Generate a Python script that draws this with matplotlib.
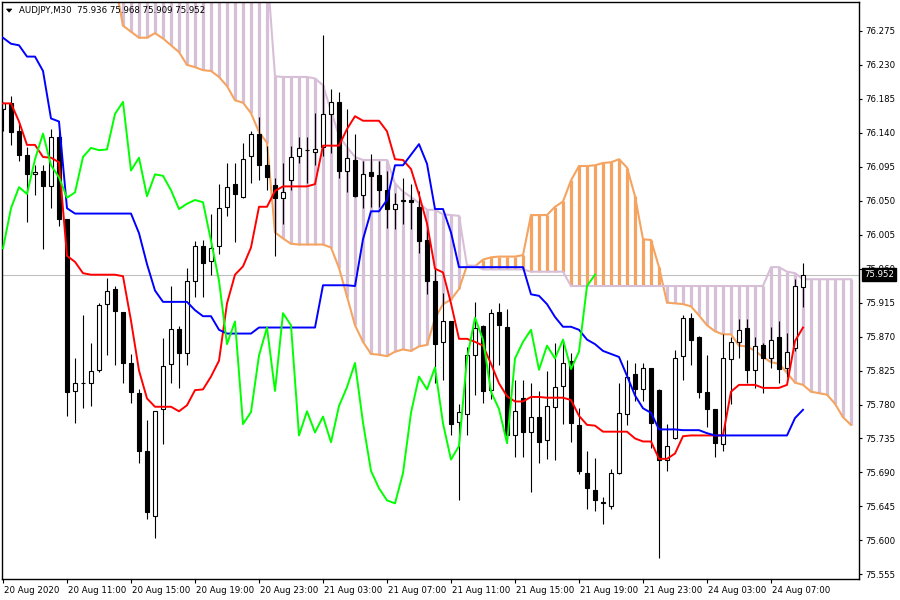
import numpy as np
import matplotlib
matplotlib.use("Agg")
import matplotlib.pyplot as plt
from matplotlib.transforms import ScaledTranslation
from matplotlib.patches import Polygon

# ---------------- data ----------------
symbol_title = "AUDJPY,M30"
last_price = 75.952

opens = [76.172, 76.180, 76.142, 76.111, 76.085, 76.089, 76.069, 76.134, 76.026, 75.798,
         75.808, 75.808, 75.826, 75.913, 75.933, 75.902, 75.835, 75.795, 75.719, 75.632,
         75.774, 75.834, 75.880, 75.848, 75.944, 75.990, 75.970, 75.990, 76.042, 76.072,
         76.055, 76.109, 76.139, 76.097, 76.071, 76.054, 76.078, 76.109, 76.117, 76.115,
         76.121, 76.165, 76.181, 76.090, 76.104, 76.058, 76.088, 76.084, 76.064, 76.039,
         76.050, 76.051, 76.042, 75.998, 75.944, 75.863, 75.890, 75.757, 75.768, 75.846,
         75.884, 75.799, 75.902, 75.883, 75.739, 75.788, 75.743, 75.763, 75.733, 75.777,
         75.805, 75.838, 75.753, 75.689, 75.667, 75.651, 75.645, 75.689, 75.768, 75.820,
         75.800, 75.829, 75.799, 75.707, 75.736, 75.844, 75.894, 75.869, 75.797, 75.774,
         75.727, 75.840, 75.863, 75.882, 75.826, 75.859, 75.841, 75.869, 75.829, 75.855,
         75.936]
highs = [76.181, 76.189, 76.155, 76.121, 76.098, 76.097, 76.145, 76.143, 76.026, 75.842,
         75.898, 75.862, 75.914, 75.947, 75.937, 75.903, 75.847, 75.800, 75.760, 75.771,
         75.868, 75.937, 75.884, 75.961, 75.997, 75.998, 76.033, 76.072, 76.100, 76.100,
         76.126, 76.143, 76.161, 76.123, 76.080, 76.100, 76.122, 76.134, 76.134, 76.166,
         76.270, 76.198, 76.194, 76.171, 76.138, 76.103, 76.112, 76.103, 76.090, 76.060,
         76.080, 76.072, 76.063, 76.013, 75.961, 75.928, 75.890, 75.781, 75.856, 75.916,
         75.886, 75.907, 75.914, 75.907, 75.813, 75.813, 75.809, 75.798, 75.825, 75.862,
         75.865, 75.848, 75.776, 75.718, 75.709, 75.658, 75.694, 75.809, 75.839, 75.835,
         75.835, 75.829, 75.800, 75.754, 75.852, 75.898, 75.901, 75.871, 75.845, 75.774,
         75.873, 75.869, 75.893, 75.893, 75.870, 75.861, 75.883, 75.890, 75.875, 75.946,
         75.968]
lows = [76.143, 76.124, 76.103, 76.022, 76.057, 75.986, 76.040, 76.017, 75.765, 75.756,
        75.775, 75.778, 75.823, 75.846, 75.832, 75.808, 75.782, 75.703, 75.628, 75.603,
        75.728, 75.808, 75.802, 75.832, 75.923, 75.923, 75.951, 75.979, 76.030, 75.995,
        76.053, 76.073, 76.078, 76.064, 75.977, 76.019, 76.064, 76.100, 76.073, 76.098,
        76.109, 76.113, 76.080, 76.061, 76.055, 76.041, 76.042, 76.042, 76.014, 76.013,
        76.019, 76.013, 75.981, 75.927, 75.808, 75.812, 75.739, 75.654, 75.740, 75.792,
        75.782, 75.787, 75.833, 75.729, 75.711, 75.711, 75.664, 75.703, 75.708, 75.706,
        75.754, 75.730, 75.688, 75.641, 75.639, 75.622, 75.641, 75.688, 75.753, 75.784,
        75.784, 75.723, 75.577, 75.692, 75.734, 75.813, 75.833, 75.789, 75.750, 75.711,
        75.718, 75.781, 75.841, 75.809, 75.802, 75.795, 75.828, 75.808, 75.817, 75.851,
        75.909]
closes = [76.179, 76.141, 76.110, 76.085, 76.088, 76.069, 76.135, 76.026, 75.797, 75.808,
          75.808, 75.824, 75.912, 75.931, 75.904, 75.835, 75.797, 75.719, 75.638, 75.771,
          75.831, 75.880, 75.848, 75.943, 75.990, 75.967, 75.987, 76.040, 76.068, 76.059,
          76.105, 76.139, 76.097, 76.081, 76.054, 76.061, 76.108, 76.120, 76.117, 76.118,
          76.165, 76.181, 76.090, 76.107, 76.056, 76.085, 76.083, 76.064, 76.039, 76.046,
          76.051, 76.048, 75.997, 75.944, 75.860, 75.890, 75.754, 75.770, 75.845, 75.882,
          75.798, 75.901, 75.885, 75.739, 75.771, 75.743, 75.764, 75.730, 75.778, 75.803,
          75.835, 75.756, 75.692, 75.669, 75.653, 75.649, 75.689, 75.769, 75.817, 75.800,
          75.829, 75.755, 75.707, 75.725, 75.841, 75.895, 75.866, 75.797, 75.774, 75.729,
          75.841, 75.863, 75.879, 75.826, 75.858, 75.841, 75.866, 75.827, 75.850, 75.937,
          75.952]

# Tenkan-sen (red) and Kijun-sen (blue), one value per bar
tenkan = [76.179, 76.179, 76.155, 76.124, 76.124, 76.108, 76.107, 76.101, 75.977, 75.969,
          75.954, 75.952, 75.952, 75.952, 75.952, 75.950, 75.891, 75.825, 75.788, 75.777,
          75.777, 75.777, 75.771, 75.779, 75.799, 75.800, 75.817, 75.838, 75.914, 75.952,
          75.963, 75.988, 76.042, 76.042, 76.063, 76.069, 76.069, 76.069, 76.069, 76.072,
          76.123, 76.123, 76.123, 76.145, 76.162, 76.156, 76.156, 76.156, 76.142, 76.105,
          76.104, 76.092, 76.058, 76.020, 75.960, 75.955, 75.914, 75.867, 75.867, 75.863,
          75.858, 75.834, 75.808, 75.791, 75.784, 75.784, 75.790, 75.790, 75.789, 75.789,
          75.789, 75.786, 75.765, 75.753, 75.752, 75.744, 75.744, 75.744, 75.744, 75.735,
          75.731, 75.731, 75.708, 75.708, 75.715, 75.738, 75.739, 75.739, 75.739, 75.739,
          75.739, 75.797, 75.806, 75.806, 75.806, 75.802, 75.802, 75.802, 75.806, 75.864,
          75.882]
kijun = [76.266, 76.258, 76.256, 76.241, 76.241, 76.222, 76.159, 76.155, 76.040, 76.033,
         76.033, 76.033, 76.033, 76.033, 76.033, 76.033, 76.033, 76.007, 75.966, 75.931,
         75.916, 75.916, 75.916, 75.916, 75.905, 75.897, 75.897, 75.879, 75.874, 75.874,
         75.874, 75.874, 75.882, 75.882, 75.882, 75.882, 75.882, 75.882, 75.882, 75.882,
         75.938, 75.938, 75.938, 75.938, 75.937, 75.999, 76.036, 76.036, 76.051, 76.097,
         76.097, 76.111, 76.125, 76.099, 76.039, 76.039, 76.008, 75.962, 75.962, 75.962,
         75.962, 75.962, 75.962, 75.962, 75.962, 75.962, 75.926, 75.924, 75.913, 75.896,
         75.883, 75.883, 75.879, 75.866, 75.860, 75.851, 75.847, 75.843, 75.818, 75.792,
         75.775, 75.769, 75.747, 75.747, 75.747, 75.746, 75.746, 75.746, 75.742, 75.739,
         75.739, 75.739, 75.739, 75.739, 75.739, 75.739, 75.739, 75.739, 75.739, 75.762,
         75.773]

# Senkou spans (cloud), bars 14 .. 106 (values above 76.31 lie off the top of the chart)
span_start = 14
span_a = [76.340, 76.282, 76.274, 76.266, 76.266, 76.272, 76.265, 76.256, 76.247, 76.230,
          76.227, 76.223, 76.222, 76.214, 76.202, 76.183, 76.180, 76.166, 76.141, 76.127,
          76.008, 76.000, 75.993, 75.992, 75.992, 75.992, 75.992, 75.988, 75.961, 75.923,
          75.885, 75.863, 75.847, 75.846, 75.844, 75.850, 75.853, 75.851, 75.857, 75.859,
          75.894, 75.913, 75.919, 75.933, 75.964, 75.963, 75.972, 75.975, 75.976, 75.976,
          75.976, 75.978, 76.031, 76.031, 76.031, 76.042, 76.049, 76.077, 76.096, 76.096,
          76.097, 76.100, 76.101, 76.105, 76.094, 76.056, 75.999, 75.998, 75.962, 75.915,
          75.914, 75.913, 75.910, 75.898, 75.885, 75.877, 75.873, 75.873, 75.858, 75.857,
          75.851, 75.843, 75.836, 75.834, 75.822, 75.809, 75.806, 75.797, 75.795, 75.793,
          75.781, 75.763, 75.753]
span_b = [76.360, 76.360, 76.360, 76.360, 76.360, 76.360, 76.360, 76.360, 76.360, 76.360,
          76.360, 76.360, 76.360, 76.360, 76.360, 76.360, 76.360, 76.360, 76.360, 76.360,
          76.215, 76.214, 76.214, 76.214, 76.214, 76.212, 76.203, 76.169, 76.136, 76.121,
          76.108, 76.104, 76.104, 76.104, 76.104, 76.073, 76.062, 76.055, 76.047, 76.038,
          76.038, 76.032, 76.031, 76.030, 75.964, 75.964, 75.959, 75.959, 75.959, 75.959,
          75.959, 75.959, 75.956, 75.956, 75.956, 75.956, 75.956, 75.937, 75.937, 75.937,
          75.937, 75.937, 75.937, 75.937, 75.937, 75.937, 75.937, 75.937, 75.937, 75.937,
          75.937, 75.937, 75.937, 75.937, 75.937, 75.937, 75.937, 75.937, 75.937, 75.937,
          75.937, 75.937, 75.962, 75.962, 75.956, 75.954, 75.946, 75.946, 75.946, 75.946,
          75.946, 75.946, 75.946]

chikou_shift = 26
time_labels = ["20 Aug 2020", "20 Aug 11:00", "20 Aug 15:00", "20 Aug 19:00", "20 Aug 23:00",
               "21 Aug 03:00", "21 Aug 07:00", "21 Aug 11:00", "21 Aug 15:00", "21 Aug 19:00",
               "21 Aug 23:00", "24 Aug 03:00", "24 Aug 07:00"]
bars_per_label = 8
price_ticks = [75.555, 75.600, 75.645, 75.690, 75.735, 75.780, 75.825, 75.870, 75.915,
               75.960, 76.005, 76.050, 76.095, 76.140, 76.185, 76.230, 76.275]

# ---------------- figure ----------------
W, H = 900, 600
fig = plt.figure(figsize=(W / 100, H / 100), dpi=100)
fig.patch.set_facecolor("white")
left_px, right_px, top_px, bot_px = 2.3, 859.0, 2.0, 579.0
ax = fig.add_axes([left_px / W, 1 - bot_px / H, (right_px - left_px) / W, (bot_px - top_px) / H])
ax.set_facecolor("white")

FS = 6.2
plt.rcParams["font.family"] = ["DejaVu Sans"]

n = len(closes)
x = np.arange(n)
o = np.array(opens); h = np.array(highs); l = np.array(lows); c = np.array(closes)

# current price line
ax.axhline(last_price, color="#C0C0C0", lw=0.8, zorder=0.5)

# cloud hatch
sa = np.array(span_a); sb = np.array(span_b)
xs = np.arange(span_start, span_start + len(sa))
col_up = "#F4A460"
col_dn = "#D8BFD8"
for xi, a, b in zip(xs, sa, sb):
    ax.vlines(xi, min(a, b), max(a, b), color=col_up if a > b else col_dn,
              lw=2.3, zorder=1)
ax.plot(xs, sa, color=col_up, lw=1.5, zorder=1.5, solid_joinstyle="round")
ax.plot(xs, sb, color=col_dn, lw=1.5, zorder=1.5, solid_joinstyle="round")

# candles
ax.vlines(x, l, h, color="black", lw=0.8, zorder=2)
bull = c >= o
body_w = 0.52
heights = np.abs(c - o)
bottoms = np.minimum(o, c)
ax.bar(x[bull], heights[bull], bottom=bottoms[bull], width=body_w,
       color="white", edgecolor="black", linewidth=0.8, zorder=2.1)
ax.bar(x[~bull], heights[~bull], bottom=bottoms[~bull], width=body_w,
       color="black", edgecolor="black", linewidth=0.8, zorder=2.1)

# Ichimoku lines
ax.plot(x, tenkan, color="#FF0000", lw=1.4, zorder=3)
ax.plot(x, kijun, color="#0000FF", lw=1.4, zorder=3)
chikou = c[chikou_shift:]
ax.plot(np.arange(len(chikou)), chikou, color="#00FF00", lw=1.4, zorder=3)

# limits
ppx = 0.045 / 33.96
ax.set_ylim(75.555 - (bot_px - 574.3) * ppx, 75.555 + (574.3 - top_px) * ppx)
ax.set_xlim((left_px - 3.0) / 8.0, (right_px - 3.0) / 8.0)

for s in ax.spines.values():
    s.set_color("black")
    s.set_linewidth(1.0)

# x ticks
xt = [i * bars_per_label for i in range(len(time_labels))]
ax.set_xticks(xt)
ax.set_xticklabels(time_labels, fontsize=FS, ha="left")
ax.tick_params(axis="x", direction="out", length=3.0, width=0.8, pad=2.0, colors="black")
offset = ScaledTranslation(1.5 / 100, 0, fig.dpi_scale_trans)
for lab in ax.get_xticklabels():
    lab.set_transform(lab.get_transform() + offset)

# y ticks on right
ax.yaxis.tick_right()
ax.set_yticks(price_ticks)
ax.set_yticklabels([f"{v:.3f}" for v in price_ticks], fontsize=FS)
ax.tick_params(axis="y", direction="out", length=2.5, width=0.8, pad=2.0, colors="black")

# last price box
ax.annotate(f"{last_price:.3f}", xy=(1.0, last_price), xycoords=("axes fraction", "data"),
            xytext=(3.6, 0), textcoords="offset points", ha="left", va="center",
            color="white", fontsize=FS,
            bbox=dict(boxstyle="square,pad=0.2", fc="black", ec="black"),
            annotation_clip=False, zorder=10)

# title
title = f"{symbol_title}  {opens[-1]:.3f} {highs[-1]:.3f} {lows[-1]:.3f} {closes[-1]:.3f}"
fig.text(19 / W, 1 - 10.7 / H, title, fontsize=FS, ha="left", va="center", color="black")
tri = Polygon([[6.5 / W, 1 - 9.0 / H], [11.8 / W, 1 - 9.0 / H], [9.15 / W, 1 - 12.2 / H]],
              closed=True, transform=fig.transFigure, fc="black", ec="black", lw=0.5)
fig.add_artist(tri)

fig.savefig("out.png", dpi=100, facecolor="white")
